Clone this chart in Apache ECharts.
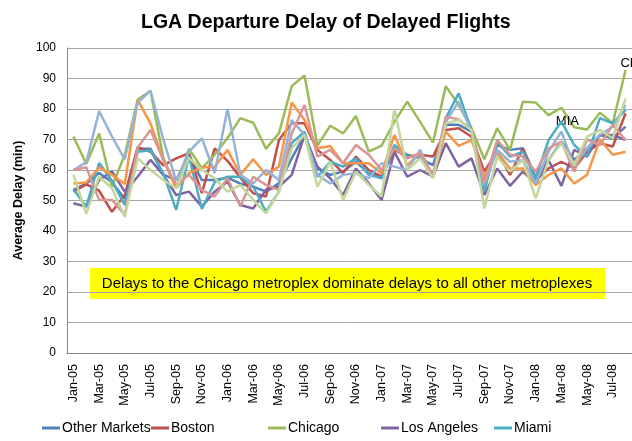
<!DOCTYPE html>
<html>
<head>
<meta charset="utf-8">
<script src="https://cdn.jsdelivr.net/npm/echarts@6/dist/echarts.min.js"></script>
<style>
  html, body { margin: 0; padding: 0; background: #fff; }
  #main { width: 632px; height: 441px; }
</style>
</head>
<body>
<div id="main"></div>
<script>
// months Jan-05 .. Aug-08
var months = ['Jan-05','Feb-05','Mar-05','Apr-05','May-05','Jun-05','Jul-05','Aug-05','Sep-05','Oct-05','Nov-05','Dec-05',
              'Jan-06','Feb-06','Mar-06','Apr-06','May-06','Jun-06','Jul-06','Aug-06','Sep-06','Oct-06','Nov-06','Dec-06',
              'Jan-07','Feb-07','Mar-07','Apr-07','May-07','Jun-07','Jul-07','Aug-07','Sep-07','Oct-07','Nov-07','Dec-07',
              'Jan-08','Feb-08','Mar-08','Apr-08','May-08','Jun-08','Jul-08','Aug-08'];

var yTicks = [0, 10, 20, 30, 40, 50, 60, 70, 80, 90, 100];

// delay in minutes
var otherMarkets = [53.5,55.5,59,56,50.5,67,67,58.5,56.7,65,56.7,56.7,57.5,55.5,54.5,52.9,55.6,63.8,71.5,60.5,58.4,59.5,
                    62.7,58.9,57.8,66.6,65,63.8,61.6,74.8,74.8,72.6,56.7,68.2,66.6,67.1,57.8,63.3,69.3,63.3,67.1,71.5,70.4,74.2];
var boston = [52.9,55.3,53.2,46.3,51.8,67.5,66,61.5,63.8,65.5,52.4,67.1,63,57.5,52.4,51.3,69.8,75.3,75.3,66.6,63.3,59,
              64.4,60,57.8,66.6,64.4,65,64.4,73.1,73.7,70.9,59.5,66,58.4,67.1,56.7,60.5,62.7,60.5,66,68.8,67.7,78.6];
var chicago = [71,62,72,54.5,65,83,86,64,54,67,60.5,65,70.5,77,75.5,67,72,87.5,91,68,74.5,72,
               77.7,66,68,75.8,82.4,75.8,69,87.5,81.3,73.7,63.5,73.7,66.6,82.4,82.1,78,80.4,74,73.3,78.8,75.3,92.8];
var losAngeles = [49.1,48,56.7,59.5,52.9,57.8,63.3,58.4,51.8,52.9,48,52.9,56.2,48.5,47.4,53.5,54.5,58.4,71.5,61.1,57.3,51.8,
                  60.5,55.6,50.2,66,57.8,60,57.8,68.8,61.1,63.8,51.8,60.5,54.8,59.5,55.6,63.3,54.8,66.6,64.4,71.5,71.5,69.8];
var miami = [53.7,48,62.3,56.5,48.5,66,66.5,58.9,46.9,64.5,47.2,56,57.8,57.8,54.5,46.3,52.9,68.8,72.6,57.8,62.7,61.1,
             63.8,58.4,57.3,68.2,64.4,64.4,57.8,77,85.1,73.1,53,69.3,64.4,66,57.3,69.8,75.9,68.2,64.4,77,75.3,79.7];
// the four lines that the legend leaves out
var series6 = [55.6,55.9,60.9,58.4,55.4,83,75.3,63.3,54,59,60.8,61.1,66.6,58.4,63.5,58.4,61.1,82.1,76.4,67.1,67.9,62.2,
               62.2,62.2,58.9,71.5,61.6,65.5,57.8,72.6,67.9,69.8,57.8,66,60.5,60.5,55.1,58.4,60.5,55.6,58.4,70,65,66];
var series7 = [60,62.5,79.3,71,63.5,82,86,70,56.5,66,70.4,59,80,58.4,55.6,60,56.7,76.4,71.5,58.4,55.6,58.4,
               58.9,57.3,62.2,61.1,60,66.6,57.8,75.8,82.4,72.6,55.1,66.6,62.7,63.3,55.6,66,72.6,61.1,67.1,71.5,74.2,81.3];
var series8 = [60,60.9,50.2,50.2,45.3,67.4,73.1,63.3,55.1,58.4,53.5,51.3,57.3,48,57.8,55.1,53.5,72,81.3,64.4,66.6,62.2,
               68.2,65,60,67.1,63.8,65.5,58.4,77.5,76.6,73.1,55.6,69.8,65,64.4,59.5,67.1,69.3,59.5,70,68.2,74.8,69.8];
var series9 = [58.4,45.6,57.8,54,44.7,63.8,60,56.7,54,64,60,57.3,52.9,55.1,50.2,45.8,52.9,67.1,71.5,54.5,62.7,50.2,
               59.5,55.1,51.3,80,60,63.8,57.3,75.3,76.4,73.1,47.4,64.4,59.5,63.3,50.7,63.3,68.8,61.6,70.9,73.1,70.4,83.5];

var names = ['Other Markets', 'Boston', 'Chicago', 'Los Angeles', 'Miami', 'Series 6', 'Series 7', 'Series 8', 'Series 9'];
var colors = ['#4F81BD', '#C0504D', '#9BBB59', '#8064A2', '#4BACC6', '#F79646', '#95B3D7', '#D99694', '#C3D69B'];
var allData = [otherMarkets, boston, chicago, losAngeles, miami, series6, series7, series8, series9];

var FONT = '"Liberation Sans", Arial, sans-serif';

var myChart = echarts.init(document.getElementById('main'));

var series = allData.map(function (d, k) {
    var s = {
        name: names[k],
        type: 'line',
        data: d,
        showSymbol: false,
        symbol: 'none',
        smooth: false,
        lineStyle: { width: 2.5, color: colors[k] },
        itemStyle: { color: colors[k] },
        emphasis: { disabled: true },
        z: 2 + k
    };
    // text labels next to the Miami and Chicago lines
    if (names[k] === 'Miami') {
        s.markPoint = {
            symbol: 'circle', symbolSize: 0, silent: true,
            label: { show: true, position: 'inside', offset: [6, 0], formatter: 'MIA',
                     color: '#000', fontSize: 13, fontFamily: FONT },
            data: [{ xAxis: 38, yAxis: miami[38] }]
        };
    }
    if (names[k] === 'Chicago') {
        s.markPoint = {
            symbol: 'circle', symbolSize: 0, silent: true,
            label: { show: true, position: 'inside', offset: [6, -7], formatter: 'CHI',
                     color: '#000', fontSize: 13, fontFamily: FONT },
            data: [{ xAxis: 43, yAxis: chicago[43] }]
        };
    }
    return s;
});

// legend entries sit at uneven places, like the original
var legendLeft = [42, 151, 268, 381, 494];
var legends = legendLeft.map(function (x, k) {
    return {
        data: [names[k]],
        left: x,
        top: 421,
        padding: 0,
        icon: 'rect',
        itemWidth: 18,
        itemHeight: 3,
        selectedMode: false,
        textStyle: { fontSize: 14, color: '#000', fontFamily: FONT, padding: [0, 0, 0, -3] }
    };
});

var option = {
    animation: false,
    color: colors,
    title: {
        text: 'LGA Departure Delay of Delayed Flights',
        left: 136,
        top: 8,
        textStyle: { fontSize: 19.5, fontWeight: 'bold', color: '#000', fontFamily: FONT }
    },
    legend: legends,
    grid: { left: 67, top: 48, width: 567, height: 305 },
    xAxis: {
        type: 'category',
        data: months,
        boundaryGap: true,
        axisLine: { lineStyle: { color: '#868686' } },
        axisTick: { show: false },
        axisLabel: { interval: 1, rotate: 90, fontSize: 12.5, color: '#000', fontFamily: FONT, margin: 11 }
    },
    yAxis: {
        type: 'value',
        min: yTicks[0],
        max: yTicks[yTicks.length - 1],
        interval: 10,
        name: 'Average Delay (min)',
        nameLocation: 'middle',
        nameGap: 42,
        nameTextStyle: { fontSize: 12.5, fontWeight: 'bold', color: '#000', fontFamily: FONT },
        axisLine: { show: true, lineStyle: { color: '#868686' } },
        axisTick: { show: false },
        axisLabel: { fontSize: 12, color: '#000', fontFamily: FONT, margin: 11 },
        splitLine: { lineStyle: { color: '#A6A6A6' } }
    },
    graphic: [{
        type: 'group',
        left: 90,
        top: 268,
        children: [{
            type: 'rect',
            shape: { x: 0, y: 0, width: 515, height: 31 },
            style: { fill: '#FFFF00' }
        }, {
            type: 'text',
            x: 257,
            y: 16,
            style: {
                text: 'Delays to the Chicago metroplex dominate delays to all other metroplexes',
                fill: '#000',
                fontSize: 15,
                fontFamily: FONT,
                textAlign: 'center',
                textVerticalAlign: 'middle'
            }
        }]
    }],
    series: series
};

myChart.setOption(option);
</script>
</body>
</html>
